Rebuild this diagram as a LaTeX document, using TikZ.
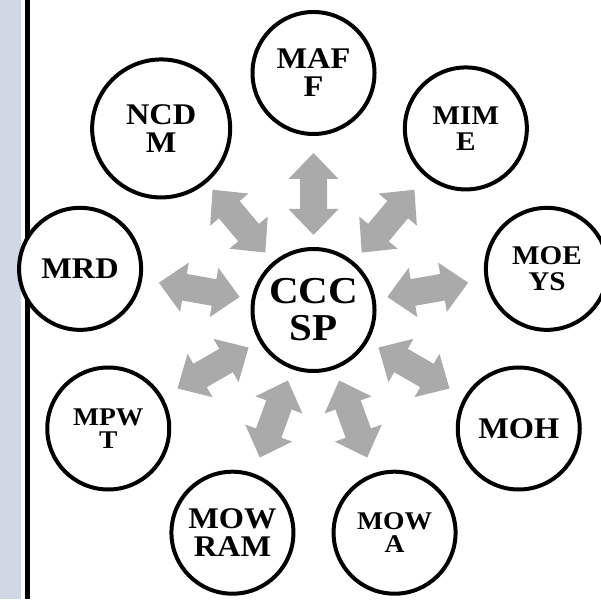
\documentclass[tikz,border=0pt]{standalone}
\usepackage{fontspec}
\setmainfont[FakeStretch=1.08]{Liberation Serif}
\definecolor{stripc}{RGB}{208,216,230}
\definecolor{arrowgray}{RGB}{170,170,170}
\begin{document}
\begin{tikzpicture}[x=1pt,y=1pt,
  circ/.style={circle,draw=black,line width=4pt,fill=white,minimum size=122pt,inner sep=0pt,align=center,
    font=\fontsize{30}{28}\selectfont\bfseries},
  smallc/.style={font=\fontsize{27}{26}\selectfont\bfseries},
  tinyc/.style={font=\fontsize{25.5}{23}\selectfont\bfseries},
  arr/.style={fill=arrowgray}]
\useasboundingbox (0,0) rectangle (601,599);
\fill[white] (0,0) rectangle (601,599);
\fill[stripc] (0,0) rectangle (21,599);
\fill[black] (25,0) rectangle (29.5,599);
\coordinate (o) at (313.5,289);
% arrows
\foreach \a in {90,50,10,-30,-70,-110,-150,170,130}{
  \begin{scope}[shift={(o)},rotate=\a]
    \fill[arr] (75,0) -- (101,25) -- (101,13.5) -- (131,13.5) -- (131,25) -- (157,0)
      -- (131,-25) -- (131,-13.5) -- (101,-13.5) -- (101,-25) -- cycle;
  \end{scope}
}
\node[circ,font=\fontsize{38}{37}\selectfont\bfseries] (c) at (o) {CCC\\SP};
\node[circ] (maff) at ([shift={(90:237)}]o) {MAF\\F};
\node[circ,smallc] (mime) at ([shift={(50:237)}]o) {MIM\\E};
\node[circ,smallc] (moeys) at ([shift={(10:237)}]o) {MOE\\YS};
\node[circ] (moh) at ([shift={(-30:237)}]o) {MOH};
\node[circ,tinyc] (mowa) at ([shift={(-70:237)}]o) {MOW\\A};
\node[circ] (mowram) at ([shift={(-110:237)}]o) {MOW\\RAM};
\node[circ,tinyc] (mpwt) at ([shift={(-150:237)}]o) {MPW\\T};
\node[circ] (mrd) at ([shift={(170:237)}]o) {MRD};
\node[circ,minimum size=138pt] (ncdm) at ([shift={(130:237)}]o) {NCD\\M};
\end{tikzpicture}
\end{document}
